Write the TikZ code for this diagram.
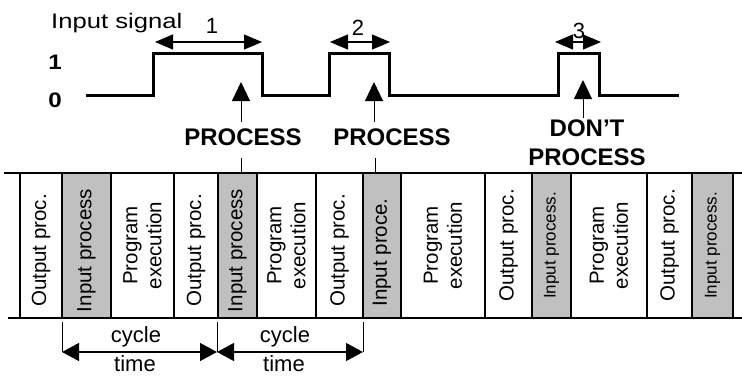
\documentclass[tikz,border=0pt]{standalone}
\usepackage{fontspec}
\setmainfont{Liberation Sans}
\usetikzlibrary{arrows.meta}
\definecolor{procgray}{RGB}{192,192,192}
\begin{document}
\begin{tikzpicture}[x=1pt,y=-1pt,
  stage/.style={draw, line width=1.2pt, rotate=90, minimum width=145pt,
    minimum height=#1, inner sep=0pt, outer sep=0pt, align=center,
    font=\fontsize{20.5}{24}\selectfont},
  idle/.style={stage=#1, fill=white},
  scan/.style={stage=#1, fill=procgray},
  smalltxt/.style={font=\fontsize{17}{20}\selectfont},
  signal/.style={line width=3pt, line join=miter},
  band/.style={line width=1.3pt},
  span/.style={line width=1.2pt, {Triangle[length=18pt,width=15pt]}-{Triangle[length=18pt,width=15pt]}},
  cyclespan/.style={line width=1.2pt, {Triangle[length=17pt,width=18pt]}-{Triangle[length=17pt,width=18pt]}},
  uparrow/.style={line width=1pt, -{Triangle[length=19pt,width=18pt]}},
  tick/.style={line width=1pt},
  plain/.style={inner sep=0pt, font=\fontsize{22}{26}\selectfont},
  level/.style={inner sep=0pt, xscale=1.15, font=\fontsize{21}{24}\selectfont\bfseries},
  verdict/.style={inner sep=0pt, align=center, font=\fontsize{24}{29}\selectfont\bfseries}
]
\useasboundingbox (0,0) rectangle (742,376);

% ---- input waveform ----
\node[plain, anchor=west, xscale=1.22, font=\fontsize{21}{25}\selectfont] (title) at (51,23) {Input signal};
\node[level] (one) at (55,62) {1};
\node[level] (zero) at (55,100.5) {0};
\draw[signal] (86,95) -- (153,95) -- (153,53) -- (262,53) -- (262,95)
  -- (329,95) -- (329,53) -- (389,53) -- (389,95)
  -- (558,95) -- (558,53) -- (599,53) -- (599,95) -- (679,95);

% ---- pulse widths ----
\coordinate (w1a) at (155,42); \coordinate (w1b) at (262,42);
\coordinate (w2a) at (330,42); \coordinate (w2b) at (390,42);
\coordinate (w3a) at (555,42); \coordinate (w3b) at (601,42);
\draw[span] (w1a) -- (w1b);
\draw[span] (w2a) -- (w2b);
\draw[span] (w3a) -- (w3b);
\node[plain] (n1) at (212,26) {1};
\node[plain] (n2) at (358,28) {2};
\node[plain] (n3) at (579,31) {3};

% ---- sampling verdicts ----
\node[verdict] (pr1) at (243,137) {PROCESS};
\node[verdict] (pr2) at (392,137) {PROCESS};
\node[verdict] (pr3) at (587,143) {DON’T\\PROCESS};
\coordinate (a1s) at (241,122); \coordinate (a1t) at (241,82);
\coordinate (a2s) at (374,122); \coordinate (a2t) at (374,82);
\coordinate (a3s) at (583,118); \coordinate (a3t) at (583,80);
\draw[uparrow] (a1s) -- (a1t);
\draw[uparrow] (a2s) -- (a2t);
\draw[uparrow] (a3s) -- (a3t);
\coordinate (k1a) at (241,158); \coordinate (k1b) at (241,173);
\coordinate (k2a) at (375,158); \coordinate (k2b) at (375,173);
\draw[tick] (k1a) -- (k1b);
\draw[tick] (k2a) -- (k2b);

% ---- scan cycle stages ----
\node[idle=42pt]  (s1)  at (41,245.5)    {Output proc.\hspace*{10pt}};
\node[scan=49pt]  (s2)  at (86.5,245.5)  {Input process\hspace*{10pt}};
\node[idle=63pt]  (s3)  at (142.5,245.5) {Program\\execution};
\node[idle=44pt]  (s4)  at (196,245.5)   {Output proc.\hspace*{10pt}};
\node[scan=39pt]  (s5)  at (237.5,245.5) {Input process\hspace*{10pt}};
\node[idle=59pt]  (s6)  at (286.5,245.5) {Program\\execution};
\node[idle=47pt]  (s7)  at (339.5,245.5) {Output proc.\hspace*{10pt}};
\node[scan=38pt]  (s8)  at (382,245.5)   {Input proce.\hspace*{14pt}};
\node[idle=84pt]  (s9)  at (443,245.5)   {Program\\execution};
\node[idle=47pt]  (s10) at (508.5,245.5) {Output proc.};
\node[scan=39pt, smalltxt]  (s11) at (551.5,245.5) {Input process.};
\node[idle=76pt]  (s12) at (609,245.5)   {Program\\execution};
\node[idle=45pt]  (s13) at (669.5,245.5) {Output proc.};
\node[scan=41pt, smalltxt]  (s14) at (712.5,245.5) {Input process.};

\coordinate (topL) at (4,173);  \coordinate (topR) at (742,173);
\coordinate (botL) at (8,318);  \coordinate (botR) at (742,318);
\draw[band] (topL) -- (topR);
\draw[band] (botL) -- (botR);

% ---- cycle time ----
\coordinate (c0t) at (62,322);  \coordinate (c0) at (62,352);
\coordinate (c1t) at (217,322); \coordinate (c1) at (217,352);
\coordinate (c2t) at (363,322); \coordinate (c2) at (363,352);
\draw[tick] (c0t) -- (c0);
\draw[tick] (c1t) -- (c1);
\draw[tick] (c2t) -- (c2);
\draw[cyclespan] (c0) -- (c1);
\draw[cyclespan] (c1) -- (c2);
\node[plain] (cy1) at (136,337) {cycle};
\node[plain] (tm1) at (135,364) {time};
\node[plain] (cy2) at (285,337) {cycle};
\node[plain] (tm2) at (284,364) {time};
\end{tikzpicture}
\end{document}
